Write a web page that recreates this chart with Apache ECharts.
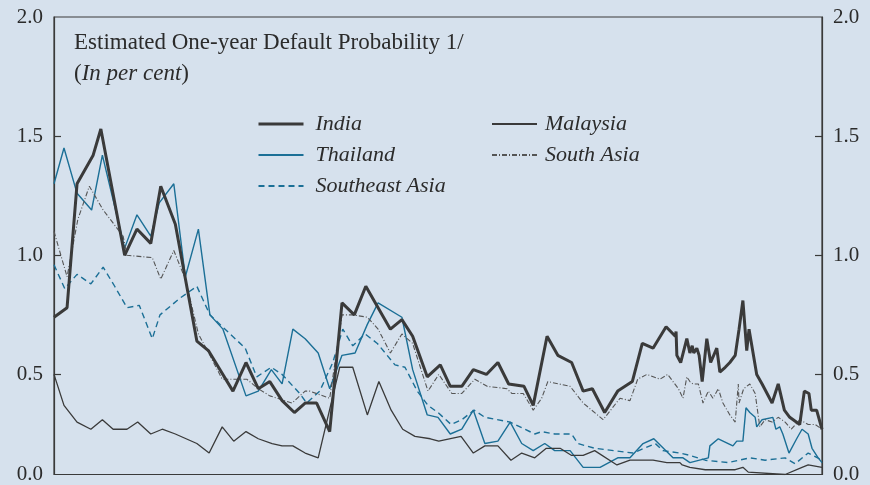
<!DOCTYPE html>
<html>
<head>
<meta charset="utf-8">
<script src="https://cdn.jsdelivr.net/npm/echarts@6/dist/echarts.min.js"></script>
<style>
  html, body { margin: 0; padding: 0; background: #d6e1ed; }
  #chart { width: 870px; height: 485px; }
</style>
</head>
<body>
<div id="chart"></div>
<script>
// x is a period index (0 = first observation, 100 = last), y is per cent
const indiaX = [0, 1.7, 3.0, 5.1, 6.1, 9.2, 10.8, 12.6, 13.9, 15.8, 18.6, 20.1, 23.3, 25.0, 26.6, 28.1, 29.7, 31.3, 32.7, 34.2, 35.9, 37.5, 39.1, 40.6, 43.8, 45.3, 46.7, 48.6, 50.3, 51.6, 53.1, 54.6, 56.3, 57.8, 59.2, 61.2, 62.4, 64.2, 65.6, 67.4, 68.9, 70.1, 71.7, 73.4, 75.3, 76.6, 78.0, 79.7, 80.9, 81.0, 81.1, 81.6, 82.4, 82.8, 83.1, 83.3, 83.7, 84.0, 84.4, 85.0, 85.5, 86.3, 86.7, 87.4, 88.0, 88.7, 89.2, 89.7, 90.2, 90.5, 91.5, 92.2, 93.5, 94.3, 95.1, 95.8, 97.1, 97.7, 98.3, 98.6, 99.3, 100]
const indiaY = [0.74, 0.78, 1.30, 1.42, 1.53, 1.00, 1.11, 1.05, 1.29, 1.13, 0.64, 0.60, 0.43, 0.55, 0.44, 0.47, 0.39, 0.34, 0.38, 0.38, 0.26, 0.80, 0.75, 0.87, 0.69, 0.73, 0.66, 0.49, 0.54, 0.45, 0.45, 0.52, 0.50, 0.55, 0.46, 0.45, 0.37, 0.66, 0.58, 0.55, 0.43, 0.44, 0.34, 0.43, 0.47, 0.63, 0.61, 0.70, 0.66, 0.68, 0.58, 0.55, 0.65, 0.59, 0.62, 0.59, 0.61, 0.58, 0.47, 0.65, 0.55, 0.61, 0.51, 0.53, 0.55, 0.58, 0.69, 0.81, 0.60, 0.69, 0.50, 0.46, 0.38, 0.46, 0.35, 0.32, 0.29, 0.43, 0.42, 0.35, 0.35, 0.27]

const thailandX = [0, 1.3, 3.0, 4.9, 6.3, 9.2, 10.8, 12.6, 13.7, 15.6, 17.1, 18.8, 20.3, 22.0, 25.0, 26.6, 28.3, 29.7, 31.1, 32.7, 34.4, 35.9, 37.5, 39.2, 40.8, 42.2, 45.3, 46.7, 48.6, 50.0, 51.6, 53.1, 54.6, 56.1, 57.8, 59.4, 60.9, 62.4, 63.9, 65.2, 67.2, 68.9, 71.1, 73.4, 75.0, 76.7, 78.1, 80.6, 81.9, 82.8, 85.2, 85.4, 86.5, 88.4, 88.9, 89.7, 90.1, 90.6, 91.3, 91.5, 92.2, 93.6, 94.0, 94.5, 94.9, 95.7, 96.7, 97.4, 98.2, 98.7, 99.5, 100]
const thailandY = [1.30, 1.45, 1.26, 1.19, 1.42, 1.03, 1.17, 1.08, 1.22, 1.30, 0.91, 1.11, 0.75, 0.69, 0.41, 0.43, 0.52, 0.46, 0.69, 0.65, 0.59, 0.44, 0.58, 0.59, 0.71, 0.80, 0.74, 0.52, 0.33, 0.32, 0.25, 0.27, 0.35, 0.21, 0.22, 0.30, 0.21, 0.18, 0.21, 0.18, 0.18, 0.11, 0.11, 0.15, 0.15, 0.21, 0.23, 0.15, 0.15, 0.13, 0.15, 0.20, 0.23, 0.20, 0.22, 0.22, 0.36, 0.34, 0.32, 0.28, 0.31, 0.32, 0.27, 0.28, 0.25, 0.17, 0.23, 0.27, 0.25, 0.19, 0.15, 0.13]

const malaysiaX = [0, 1.3, 3.0, 4.8, 6.3, 7.7, 9.5, 10.9, 12.6, 14.1, 15.8, 18.6, 20.2, 21.9, 23.4, 25.0, 26.6, 28.4, 29.7, 31.1, 32.7, 34.4, 37.2, 38.9, 40.8, 42.3, 43.9, 45.4, 47.0, 49.0, 50.1, 53.0, 54.6, 56.1, 57.8, 59.5, 60.9, 62.6, 64.1, 65.9, 67.4, 68.9, 70.4, 73.3, 75.0, 78.0, 79.8, 81.5, 81.8, 82.8, 84.8, 88.7, 89.7, 90.4, 95.2, 97.4, 98.2, 100]
const malaysiaY = [0.50, 0.37, 0.30, 0.27, 0.31, 0.27, 0.27, 0.30, 0.25, 0.27, 0.25, 0.21, 0.17, 0.28, 0.22, 0.26, 0.23, 0.21, 0.20, 0.20, 0.17, 0.15, 0.53, 0.53, 0.33, 0.47, 0.35, 0.27, 0.24, 0.23, 0.22, 0.24, 0.17, 0.20, 0.20, 0.14, 0.17, 0.15, 0.19, 0.19, 0.16, 0.16, 0.18, 0.12, 0.14, 0.14, 0.13, 0.13, 0.12, 0.11, 0.10, 0.10, 0.11, 0.09, 0.08, 0.11, 0.12, 0.11]

const southAsiaX = [0, 1.7, 3.1, 4.6, 6.4, 9.0, 9.5, 12.8, 13.9, 15.6, 17.1, 18.8, 20.3, 21.9, 25.1, 26.6, 28.1, 31.0, 32.7, 33.3, 35.9, 37.5, 38.9, 40.8, 42.2, 43.8, 45.3, 46.7, 48.7, 50.1, 51.8, 53.1, 54.8, 56.4, 59.0, 59.6, 61.1, 62.4, 63.5, 64.3, 67.2, 68.9, 71.5, 73.7, 75.0, 76.0, 77.2, 78.9, 79.9, 81.3, 81.9, 82.4, 82.8, 83.2, 83.9, 84.5, 85.2, 85.8, 86.5, 87.1, 88.0, 88.7, 89.1, 89.2, 89.8, 90.6, 91.3, 91.9, 92.6, 93.5, 94.3, 95.2, 96.0, 97.1, 98.2, 99.1, 100]
const southAsiaY = [1.10, 0.91, 1.15, 1.29, 1.19, 1.08, 1.00, 0.99, 0.90, 1.02, 0.90, 0.67, 0.58, 0.48, 0.48, 0.44, 0.41, 0.38, 0.43, 0.43, 0.40, 0.75, 0.75, 0.74, 0.69, 0.59, 0.67, 0.63, 0.43, 0.50, 0.42, 0.42, 0.48, 0.45, 0.44, 0.42, 0.42, 0.35, 0.40, 0.47, 0.45, 0.38, 0.31, 0.40, 0.39, 0.48, 0.50, 0.48, 0.50, 0.44, 0.40, 0.49, 0.47, 0.46, 0.46, 0.38, 0.43, 0.40, 0.44, 0.38, 0.33, 0.30, 0.46, 0.38, 0.44, 0.46, 0.42, 0.28, 0.31, 0.30, 0.32, 0.30, 0.27, 0.31, 0.29, 0.29, 0.27]

const seAsiaX = [0, 1.4, 3.0, 4.8, 6.4, 7.9, 9.5, 11.1, 12.8, 13.8, 16.4, 18.6, 20.3, 24.9, 26.4, 28.3, 29.7, 32.0, 32.9, 34.6, 36.3, 37.6, 38.9, 40.5, 42.1, 44.4, 45.7, 47.3, 48.7, 50.0, 51.7, 53.1, 54.7, 56.1, 59.4, 62.6, 63.5, 65.2, 67.4, 68.2, 70.4, 75.4, 78.3, 79.3, 81.5, 82.8, 84.8, 87.8, 90.6, 92.6, 95.2, 96.5, 98.2, 100]
const seAsiaY = [0.96, 0.86, 0.92, 0.88, 0.95, 0.87, 0.78, 0.79, 0.65, 0.75, 0.82, 0.87, 0.75, 0.61, 0.49, 0.53, 0.50, 0.42, 0.38, 0.43, 0.55, 0.69, 0.62, 0.67, 0.63, 0.54, 0.53, 0.43, 0.37, 0.34, 0.29, 0.31, 0.35, 0.32, 0.30, 0.25, 0.26, 0.25, 0.25, 0.21, 0.19, 0.17, 0.21, 0.18, 0.17, 0.16, 0.14, 0.13, 0.15, 0.14, 0.15, 0.125, 0.17, 0.14]

// the printed axis starts a little above zero; its bottom edge carries the "0.0" label
const yBottom = 0.08
const yTop = 2.0
const yLabels = [yBottom, 0.5, 1.0, 1.5, 2.0]
const yTicks = [0.5, 1.0, 1.5]

const serif = '"Liberation Serif", "DejaVu Serif", serif'
const ink = '#2b2b2b'
const blue = '#1b6f96'

function pairs(xs, ys) {
  return xs.map((x, i) => [x, ys[i]])
}

function yAxis(pos) {
  return {
    type: 'value',
    position: pos,
    min: yBottom,
    max: yTop,
    axisLine: { show: true, lineStyle: { color: '#3a3a3a', width: 1.2 } },
    axisTick: { show: true, inside: true, length: 7, customValues: yTicks, lineStyle: { color: '#3a3a3a', width: 1.2 } },
    axisLabel: {
      customValues: yLabels,
      margin: 11,
      color: ink,
      fontFamily: serif,
      fontSize: 21,
      formatter: function (v) { return v < 0.1 ? '0.0' : v.toFixed(1) }
    },
    splitLine: { show: false }
  }
}

const legendText = { fontFamily: serif, fontSize: 22, fontStyle: 'italic', color: ink }

const chart = echarts.init(document.getElementById('chart'))
chart.setOption({
  backgroundColor: '#d6e1ed',
  animation: false,
  title: {
    left: 74,
    top: 27,
    padding: 0,
    text: '{n|Estimated One-year Default Probability 1/}\n{n|(}{i|In per cent}{n|)}',
    textStyle: {
      fontWeight: 'normal',
      rich: {
        n: { fontFamily: serif, fontSize: 23, fontWeight: 'normal', color: ink, lineHeight: 31 },
        i: { fontFamily: serif, fontSize: 23, fontWeight: 'normal', color: ink, fontStyle: 'italic', lineHeight: 31 }
      }
    }
  },
  legend: [
    {
      orient: 'vertical',
      left: 257,
      top: 113,
      padding: 0,
      itemWidth: 45,
      itemHeight: 14,
      itemGap: 9,
      itemStyle: { opacity: 0 },
      data: [
        { name: 'India', lineStyle: { width: 3 } },
        'Thailand',
        'Southeast Asia'
      ],
      textStyle: Object.assign({ padding: [0, 0, 0, 7] }, legendText)
    },
    {
      orient: 'vertical',
      left: 491,
      top: 113,
      padding: 0,
      itemWidth: 45,
      itemHeight: 14,
      itemGap: 9,
      itemStyle: { opacity: 0 },
      data: ['Malaysia', 'South Asia'],
      textStyle: Object.assign({ padding: [0, 0, 0, 3] }, legendText)
    }
  ],
  grid: {
    left: 54,
    right: 48,
    top: 17,
    bottom: 6,
    show: true,
    borderColor: '#3a3a3a',
    borderWidth: 1.2,
    backgroundColor: 'transparent'
  },
  xAxis: {
    type: 'value',
    min: 0,
    max: 100,
    axisLine: { show: false },
    axisTick: { show: false },
    axisLabel: { show: false },
    splitLine: { show: false }
  },
  yAxis: [yAxis('left'), yAxis('right')],
  series: [
    {
      name: 'India',
      type: 'line',
      symbol: 'none',
      z: 5,
      data: pairs(indiaX, indiaY),
      lineStyle: { color: '#3a3a3a', width: 3 },
      itemStyle: { color: '#3a3a3a' }
    },
    {
      name: 'Thailand',
      type: 'line',
      symbol: 'none',
      data: pairs(thailandX, thailandY),
      lineStyle: { color: blue, width: 1.4 },
      itemStyle: { color: blue }
    },
    {
      name: 'Southeast Asia',
      type: 'line',
      symbol: 'none',
      data: pairs(seAsiaX, seAsiaY),
      lineStyle: { color: blue, width: 1.4, type: [6, 4] },
      itemStyle: { color: blue }
    },
    {
      name: 'Malaysia',
      type: 'line',
      symbol: 'none',
      data: pairs(malaysiaX, malaysiaY),
      lineStyle: { color: '#3a3a3a', width: 1.3 },
      itemStyle: { color: '#3a3a3a' }
    },
    {
      name: 'South Asia',
      type: 'line',
      symbol: 'none',
      data: pairs(southAsiaX, southAsiaY),
      lineStyle: { color: '#555555', width: 1.1, type: [5, 2, 1, 2] },
      itemStyle: { color: '#555555' }
    }
  ]
})
</script>
</body>
</html>
